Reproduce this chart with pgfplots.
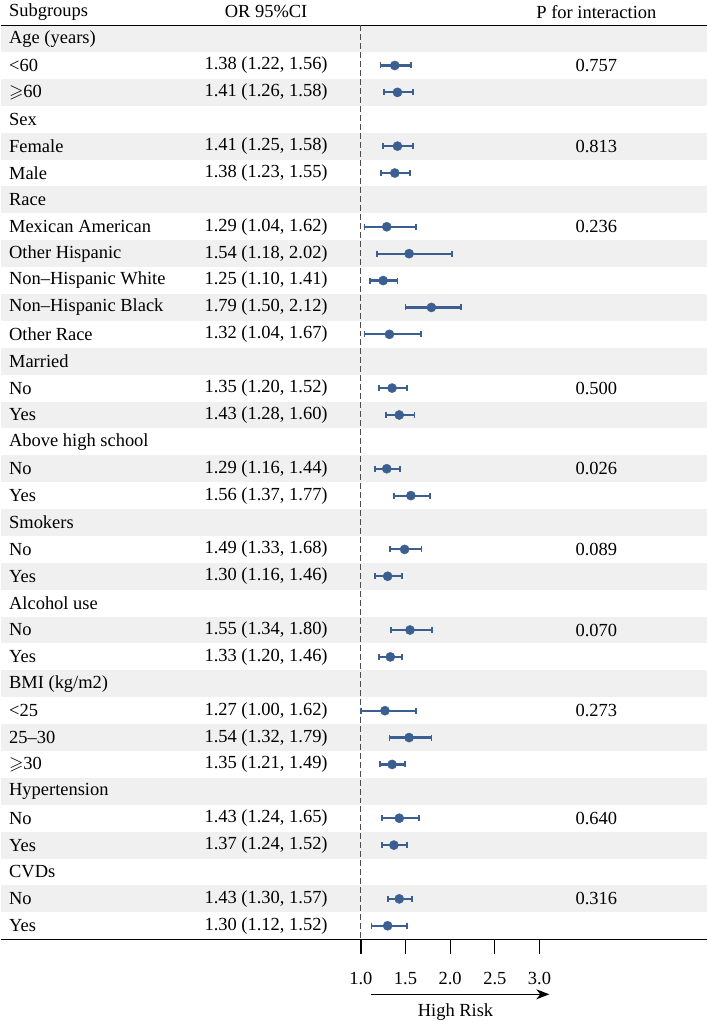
\documentclass[border=0pt]{standalone}
\usepackage{fontspec}
\setmainfont{Liberation Serif}
\usepackage{amssymb}
\usepackage{pgfplots}
\usepackage{pgfplotstable}
\pgfplotsset{compat=1.18}
\usetikzlibrary{arrows.meta}
\definecolor{ptc}{HTML}{3B5F91}
\definecolor{rowgray}{HTML}{F0F0F0}

\pgfplotstableread{
row or lo hi
2 1.38 1.22 1.56
3 1.41 1.26 1.58
5 1.41 1.25 1.58
6 1.38 1.23 1.55
8 1.29 1.04 1.62
9 1.54 1.18 2.02
10 1.25 1.10 1.41
11 1.79 1.50 2.12
12 1.32 1.04 1.67
14 1.35 1.20 1.52
15 1.43 1.28 1.60
17 1.29 1.16 1.44
18 1.56 1.37 1.77
20 1.49 1.33 1.68
21 1.30 1.16 1.46
23 1.55 1.34 1.80
24 1.33 1.20 1.46
26 1.27 1.00 1.62
27 1.54 1.32 1.79
28 1.35 1.21 1.49
30 1.43 1.24 1.65
31 1.37 1.24 1.52
33 1.43 1.30 1.57
34 1.30 1.12 1.52
}\data

\newcommand{\XL}{-3.034}
\newcommand{\XR}{4.877}
\newcommand{\XA}{-2.978}
\newcommand{\XB}{-0.061}
\newcommand{\XC}{3.637}

\begin{document}
\begin{tikzpicture}[every node/.append style={font=\fontsize{18.5}{21}\selectfont}]
\begin{axis}[
  scale only axis, width=708pt, height=916pt,
  xmin=\XL, xmax=\XR, ymin=-34.5, ymax=-0.5,
  axis x line*=bottom, axis y line=none,
  x axis line style={line width=1.2pt, -},
  xtick={1,1.5,2,2.5,3},
  xticklabels={1.0,1.5,2.0,2.5,3.0},
  tick align=outside, major tick length=15pt,
  xtick style={line width=1.3pt, black},
  xticklabel style={yshift=-15pt},
  clip=false,
]
\pgfplotsinvokeforeach{1,3,...,33}{
  \fill[rowgray] (axis cs:\XL,{-#1+0.5}) rectangle (axis cs:\XR,{-#1-0.5});
}
\path (axis cs:\XL,0.354) -- (axis cs:\XR,-37.58);
\draw[line width=1.2pt] (axis cs:\XL,-0.5) -- (axis cs:\XR,-0.5);
\draw[line width=0.9pt, black!70, dash pattern=on 6pt off 3pt] (axis cs:1,-0.5) -- (axis cs:1,-34.5);

% CI lines
\addplot[ptc, only marks, mark=none,
  error bars/.cd, x dir=both, x explicit,
  error bar style={line width=2.2pt, ptc},
  error mark=none]
  table[x=or, y expr=-\thisrow{row},
        x error plus expr=\thisrow{hi}-\thisrow{or},
        x error minus expr=\thisrow{or}-\thisrow{lo}] {\data};
% CI caps
\addplot[ptc, only marks, mark=|, mark size=3pt, mark options={line width=1.8pt}]
  table[x=lo, y expr=-\thisrow{row}] {\data};
\addplot[ptc, only marks, mark=|, mark size=3pt, mark options={line width=1.8pt}]
  table[x=hi, y expr=-\thisrow{row}] {\data};
% point estimates
\addplot[ptc, only marks, mark=*, mark size=4.6pt]
  table[x=or, y expr=-\thisrow{row}] {\data};

% headers
\node[anchor=west] at (axis cs:\XA,0) {Subgroups};
\node at (axis cs:\XB,0) {OR 95\%CI};
\node at (axis cs:\XC,0) {P for interaction};

% labels
\node[anchor=west] at (axis cs:\XA,-1) {Age (years)};
\node[anchor=west] at (axis cs:\XA,-2) {<60};
\node[anchor=west] at (axis cs:\XA,-3) {$\geqslant$60};
\node[anchor=west] at (axis cs:\XA,-4) {Sex};
\node[anchor=west] at (axis cs:\XA,-5) {Female};
\node[anchor=west] at (axis cs:\XA,-6) {Male};
\node[anchor=west] at (axis cs:\XA,-7) {Race};
\node[anchor=west] at (axis cs:\XA,-8) {Mexican American};
\node[anchor=west] at (axis cs:\XA,-9) {Other Hispanic};
\node[anchor=west] at (axis cs:\XA,-10) {Non–Hispanic White};
\node[anchor=west] at (axis cs:\XA,-11) {Non–Hispanic Black};
\node[anchor=west] at (axis cs:\XA,-12) {Other Race};
\node[anchor=west] at (axis cs:\XA,-13) {Married};
\node[anchor=west] at (axis cs:\XA,-14) {No};
\node[anchor=west] at (axis cs:\XA,-15) {Yes};
\node[anchor=west] at (axis cs:\XA,-16) {Above high school};
\node[anchor=west] at (axis cs:\XA,-17) {No};
\node[anchor=west] at (axis cs:\XA,-18) {Yes};
\node[anchor=west] at (axis cs:\XA,-19) {Smokers};
\node[anchor=west] at (axis cs:\XA,-20) {No};
\node[anchor=west] at (axis cs:\XA,-21) {Yes};
\node[anchor=west] at (axis cs:\XA,-22) {Alcohol use};
\node[anchor=west] at (axis cs:\XA,-23) {No};
\node[anchor=west] at (axis cs:\XA,-24) {Yes};
\node[anchor=west] at (axis cs:\XA,-25) {BMI (kg/m2)};
\node[anchor=west] at (axis cs:\XA,-26) {<25};
\node[anchor=west] at (axis cs:\XA,-27) {25–30};
\node[anchor=west] at (axis cs:\XA,-28) {$\geqslant$30};
\node[anchor=west] at (axis cs:\XA,-29) {Hypertension};
\node[anchor=west] at (axis cs:\XA,-30) {No};
\node[anchor=west] at (axis cs:\XA,-31) {Yes};
\node[anchor=west] at (axis cs:\XA,-32) {CVDs};
\node[anchor=west] at (axis cs:\XA,-33) {No};
\node[anchor=west] at (axis cs:\XA,-34) {Yes};

% OR column
\node at (axis cs:\XB,-2) {1.38 (1.22, 1.56)};
\node at (axis cs:\XB,-3) {1.41 (1.26, 1.58)};
\node at (axis cs:\XB,-5) {1.41 (1.25, 1.58)};
\node at (axis cs:\XB,-6) {1.38 (1.23, 1.55)};
\node at (axis cs:\XB,-8) {1.29 (1.04, 1.62)};
\node at (axis cs:\XB,-9) {1.54 (1.18, 2.02)};
\node at (axis cs:\XB,-10) {1.25 (1.10, 1.41)};
\node at (axis cs:\XB,-11) {1.79 (1.50, 2.12)};
\node at (axis cs:\XB,-12) {1.32 (1.04, 1.67)};
\node at (axis cs:\XB,-14) {1.35 (1.20, 1.52)};
\node at (axis cs:\XB,-15) {1.43 (1.28, 1.60)};
\node at (axis cs:\XB,-17) {1.29 (1.16, 1.44)};
\node at (axis cs:\XB,-18) {1.56 (1.37, 1.77)};
\node at (axis cs:\XB,-20) {1.49 (1.33, 1.68)};
\node at (axis cs:\XB,-21) {1.30 (1.16, 1.46)};
\node at (axis cs:\XB,-23) {1.55 (1.34, 1.80)};
\node at (axis cs:\XB,-24) {1.33 (1.20, 1.46)};
\node at (axis cs:\XB,-26) {1.27 (1.00, 1.62)};
\node at (axis cs:\XB,-27) {1.54 (1.32, 1.79)};
\node at (axis cs:\XB,-28) {1.35 (1.21, 1.49)};
\node at (axis cs:\XB,-30) {1.43 (1.24, 1.65)};
\node at (axis cs:\XB,-31) {1.37 (1.24, 1.52)};
\node at (axis cs:\XB,-33) {1.43 (1.30, 1.57)};
\node at (axis cs:\XB,-34) {1.30 (1.12, 1.52)};

% P column
\node at (axis cs:\XC,-2) {0.757};
\node at (axis cs:\XC,-5) {0.813};
\node at (axis cs:\XC,-8) {0.236};
\node at (axis cs:\XC,-14) {0.500};
\node at (axis cs:\XC,-17) {0.026};
\node at (axis cs:\XC,-20) {0.089};
\node at (axis cs:\XC,-23) {0.070};
\node at (axis cs:\XC,-26) {0.273};
\node at (axis cs:\XC,-30) {0.640};
\node at (axis cs:\XC,-33) {0.316};

% arrow
\draw[line width=1.2pt, -{Stealth[length=13pt,width=10pt,inset=4pt]}] (axis cs:1.11,-36.55) -- (axis cs:3.11,-36.55);
\node[anchor=base, inner sep=0pt] at (axis cs:2.06,-37.36) {High Risk};
\end{axis}
\end{tikzpicture}
\end{document}
